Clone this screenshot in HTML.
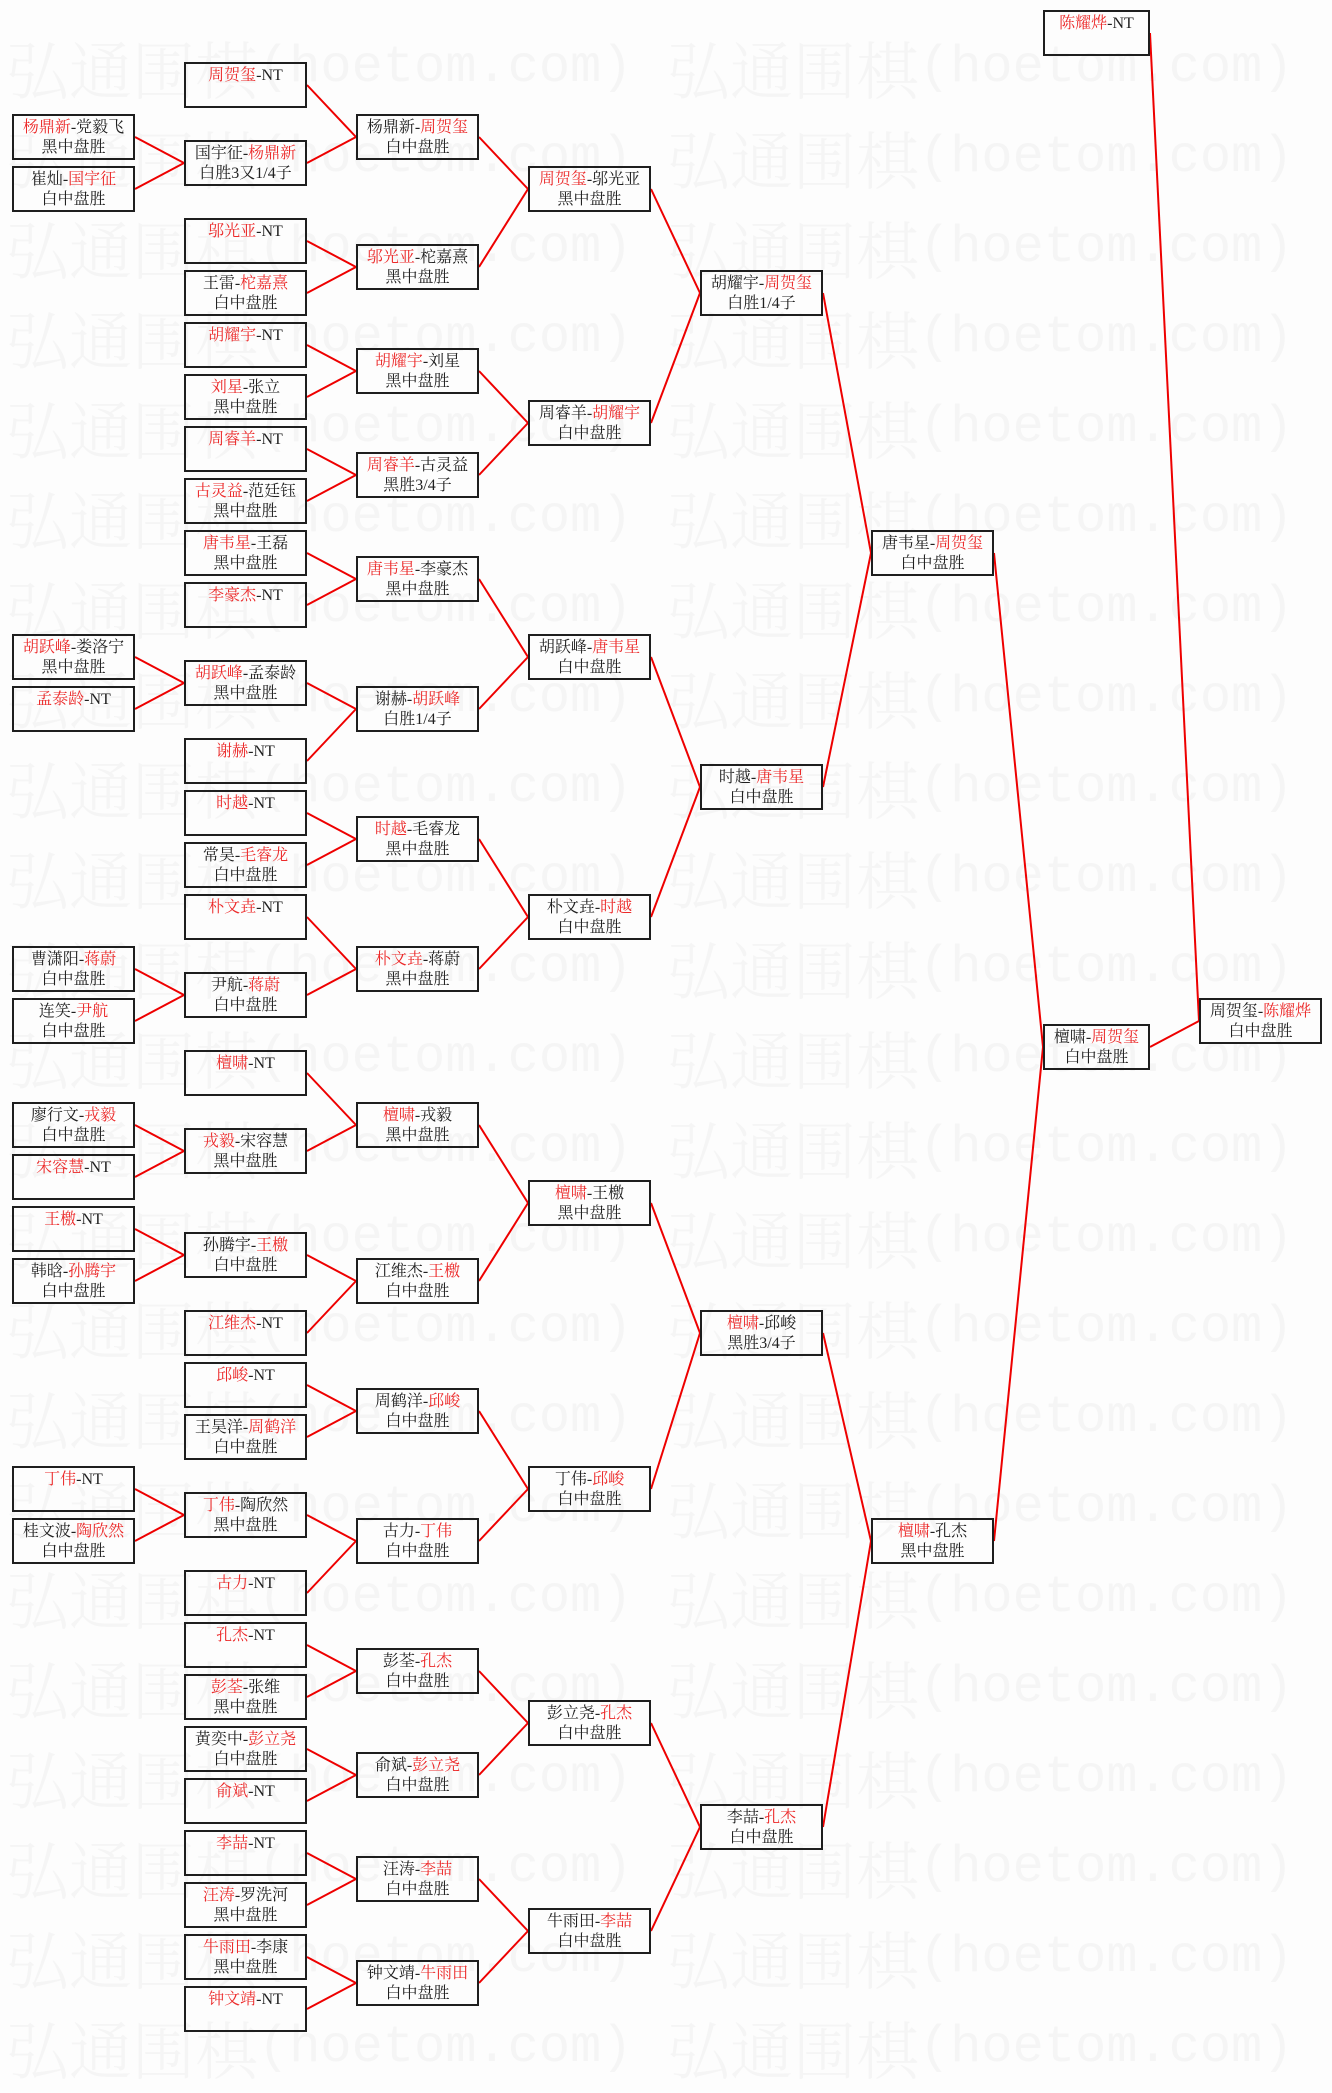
<!DOCTYPE html>
<html><head><meta charset="utf-8">
<style>
html,body{margin:0;padding:0;}
body{width:1332px;height:2041px;position:relative;overflow:hidden;background:#fdfdfd;}
.wm{position:absolute;left:0;width:1332px;height:62px;white-space:nowrap;color:#f5f5f5;}
.wm span{position:absolute;top:0;line-height:62px;}
.wc{font-family:"Noto Serif CJK SC","Noto Sans CJK SC",serif;font-size:63px;font-weight:300;}
.wl{font-family:"Liberation Mono",monospace;font-size:52px;}
svg{position:absolute;left:0;top:0;}
.b{position:absolute;box-sizing:border-box;width:123px;height:46px;border:2px solid #1e1e1e;padding-top:2px;text-align:center;font-family:"Liberation Serif","Noto Serif CJK SC",serif;font-size:16px;line-height:20px;color:#202020;white-space:nowrap;}
.n{width:107px;}
.b i{font-style:normal;color:#ec2a2a;}
</style></head><body>

<div class="wm" style="top:37px"><span class="wc" style="left:6px">弘通围棋</span><span class="wl" style="left:258px">(hoetom.com)</span><span class="wc" style="left:667px">弘通围棋</span><span class="wl" style="left:919px">(hoetom.com)</span></div>
<div class="wm" style="top:127px"><span class="wc" style="left:6px">弘通围棋</span><span class="wl" style="left:258px">(hoetom.com)</span><span class="wc" style="left:667px">弘通围棋</span><span class="wl" style="left:919px">(hoetom.com)</span></div>
<div class="wm" style="top:217px"><span class="wc" style="left:6px">弘通围棋</span><span class="wl" style="left:258px">(hoetom.com)</span><span class="wc" style="left:667px">弘通围棋</span><span class="wl" style="left:919px">(hoetom.com)</span></div>
<div class="wm" style="top:307px"><span class="wc" style="left:6px">弘通围棋</span><span class="wl" style="left:258px">(hoetom.com)</span><span class="wc" style="left:667px">弘通围棋</span><span class="wl" style="left:919px">(hoetom.com)</span></div>
<div class="wm" style="top:397px"><span class="wc" style="left:6px">弘通围棋</span><span class="wl" style="left:258px">(hoetom.com)</span><span class="wc" style="left:667px">弘通围棋</span><span class="wl" style="left:919px">(hoetom.com)</span></div>
<div class="wm" style="top:487px"><span class="wc" style="left:6px">弘通围棋</span><span class="wl" style="left:258px">(hoetom.com)</span><span class="wc" style="left:667px">弘通围棋</span><span class="wl" style="left:919px">(hoetom.com)</span></div>
<div class="wm" style="top:577px"><span class="wc" style="left:6px">弘通围棋</span><span class="wl" style="left:258px">(hoetom.com)</span><span class="wc" style="left:667px">弘通围棋</span><span class="wl" style="left:919px">(hoetom.com)</span></div>
<div class="wm" style="top:667px"><span class="wc" style="left:6px">弘通围棋</span><span class="wl" style="left:258px">(hoetom.com)</span><span class="wc" style="left:667px">弘通围棋</span><span class="wl" style="left:919px">(hoetom.com)</span></div>
<div class="wm" style="top:757px"><span class="wc" style="left:6px">弘通围棋</span><span class="wl" style="left:258px">(hoetom.com)</span><span class="wc" style="left:667px">弘通围棋</span><span class="wl" style="left:919px">(hoetom.com)</span></div>
<div class="wm" style="top:847px"><span class="wc" style="left:6px">弘通围棋</span><span class="wl" style="left:258px">(hoetom.com)</span><span class="wc" style="left:667px">弘通围棋</span><span class="wl" style="left:919px">(hoetom.com)</span></div>
<div class="wm" style="top:937px"><span class="wc" style="left:6px">弘通围棋</span><span class="wl" style="left:258px">(hoetom.com)</span><span class="wc" style="left:667px">弘通围棋</span><span class="wl" style="left:919px">(hoetom.com)</span></div>
<div class="wm" style="top:1027px"><span class="wc" style="left:6px">弘通围棋</span><span class="wl" style="left:258px">(hoetom.com)</span><span class="wc" style="left:667px">弘通围棋</span><span class="wl" style="left:919px">(hoetom.com)</span></div>
<div class="wm" style="top:1117px"><span class="wc" style="left:6px">弘通围棋</span><span class="wl" style="left:258px">(hoetom.com)</span><span class="wc" style="left:667px">弘通围棋</span><span class="wl" style="left:919px">(hoetom.com)</span></div>
<div class="wm" style="top:1207px"><span class="wc" style="left:6px">弘通围棋</span><span class="wl" style="left:258px">(hoetom.com)</span><span class="wc" style="left:667px">弘通围棋</span><span class="wl" style="left:919px">(hoetom.com)</span></div>
<div class="wm" style="top:1297px"><span class="wc" style="left:6px">弘通围棋</span><span class="wl" style="left:258px">(hoetom.com)</span><span class="wc" style="left:667px">弘通围棋</span><span class="wl" style="left:919px">(hoetom.com)</span></div>
<div class="wm" style="top:1387px"><span class="wc" style="left:6px">弘通围棋</span><span class="wl" style="left:258px">(hoetom.com)</span><span class="wc" style="left:667px">弘通围棋</span><span class="wl" style="left:919px">(hoetom.com)</span></div>
<div class="wm" style="top:1477px"><span class="wc" style="left:6px">弘通围棋</span><span class="wl" style="left:258px">(hoetom.com)</span><span class="wc" style="left:667px">弘通围棋</span><span class="wl" style="left:919px">(hoetom.com)</span></div>
<div class="wm" style="top:1567px"><span class="wc" style="left:6px">弘通围棋</span><span class="wl" style="left:258px">(hoetom.com)</span><span class="wc" style="left:667px">弘通围棋</span><span class="wl" style="left:919px">(hoetom.com)</span></div>
<div class="wm" style="top:1657px"><span class="wc" style="left:6px">弘通围棋</span><span class="wl" style="left:258px">(hoetom.com)</span><span class="wc" style="left:667px">弘通围棋</span><span class="wl" style="left:919px">(hoetom.com)</span></div>
<div class="wm" style="top:1747px"><span class="wc" style="left:6px">弘通围棋</span><span class="wl" style="left:258px">(hoetom.com)</span><span class="wc" style="left:667px">弘通围棋</span><span class="wl" style="left:919px">(hoetom.com)</span></div>
<div class="wm" style="top:1837px"><span class="wc" style="left:6px">弘通围棋</span><span class="wl" style="left:258px">(hoetom.com)</span><span class="wc" style="left:667px">弘通围棋</span><span class="wl" style="left:919px">(hoetom.com)</span></div>
<div class="wm" style="top:1927px"><span class="wc" style="left:6px">弘通围棋</span><span class="wl" style="left:258px">(hoetom.com)</span><span class="wc" style="left:667px">弘通围棋</span><span class="wl" style="left:919px">(hoetom.com)</span></div>
<div class="wm" style="top:2017px"><span class="wc" style="left:6px">弘通围棋</span><span class="wl" style="left:258px">(hoetom.com)</span><span class="wc" style="left:667px">弘通围棋</span><span class="wl" style="left:919px">(hoetom.com)</span></div>

<svg width="1332" height="2041" viewBox="0 0 1332 2041">
<g stroke="#ee0000" stroke-width="2" fill="none">
<line x1="135" y1="137" x2="184" y2="163"/>
<line x1="135" y1="189" x2="184" y2="163"/>
<line x1="135" y1="657" x2="184" y2="683"/>
<line x1="135" y1="709" x2="184" y2="683"/>
<line x1="135" y1="969" x2="184" y2="995"/>
<line x1="135" y1="1021" x2="184" y2="995"/>
<line x1="135" y1="1125" x2="184" y2="1151"/>
<line x1="135" y1="1177" x2="184" y2="1151"/>
<line x1="135" y1="1229" x2="184" y2="1255"/>
<line x1="135" y1="1281" x2="184" y2="1255"/>
<line x1="135" y1="1489" x2="184" y2="1515"/>
<line x1="135" y1="1541" x2="184" y2="1515"/>
<line x1="307" y1="85" x2="356" y2="137"/>
<line x1="307" y1="163" x2="356" y2="137"/>
<line x1="307" y1="241" x2="356" y2="267"/>
<line x1="307" y1="293" x2="356" y2="267"/>
<line x1="307" y1="345" x2="356" y2="371"/>
<line x1="307" y1="397" x2="356" y2="371"/>
<line x1="307" y1="449" x2="356" y2="475"/>
<line x1="307" y1="501" x2="356" y2="475"/>
<line x1="307" y1="553" x2="356" y2="579"/>
<line x1="307" y1="605" x2="356" y2="579"/>
<line x1="307" y1="683" x2="356" y2="709"/>
<line x1="307" y1="761" x2="356" y2="709"/>
<line x1="307" y1="813" x2="356" y2="839"/>
<line x1="307" y1="865" x2="356" y2="839"/>
<line x1="307" y1="917" x2="356" y2="969"/>
<line x1="307" y1="995" x2="356" y2="969"/>
<line x1="307" y1="1073" x2="356" y2="1125"/>
<line x1="307" y1="1151" x2="356" y2="1125"/>
<line x1="307" y1="1255" x2="356" y2="1281"/>
<line x1="307" y1="1333" x2="356" y2="1281"/>
<line x1="307" y1="1385" x2="356" y2="1411"/>
<line x1="307" y1="1437" x2="356" y2="1411"/>
<line x1="307" y1="1515" x2="356" y2="1541"/>
<line x1="307" y1="1593" x2="356" y2="1541"/>
<line x1="307" y1="1645" x2="356" y2="1671"/>
<line x1="307" y1="1697" x2="356" y2="1671"/>
<line x1="307" y1="1749" x2="356" y2="1775"/>
<line x1="307" y1="1801" x2="356" y2="1775"/>
<line x1="307" y1="1853" x2="356" y2="1879"/>
<line x1="307" y1="1905" x2="356" y2="1879"/>
<line x1="307" y1="1957" x2="356" y2="1983"/>
<line x1="307" y1="2009" x2="356" y2="1983"/>
<line x1="479" y1="137" x2="528" y2="189"/>
<line x1="479" y1="267" x2="528" y2="189"/>
<line x1="479" y1="371" x2="528" y2="423"/>
<line x1="479" y1="475" x2="528" y2="423"/>
<line x1="479" y1="579" x2="528" y2="657"/>
<line x1="479" y1="709" x2="528" y2="657"/>
<line x1="479" y1="839" x2="528" y2="917"/>
<line x1="479" y1="969" x2="528" y2="917"/>
<line x1="479" y1="1125" x2="528" y2="1203"/>
<line x1="479" y1="1281" x2="528" y2="1203"/>
<line x1="479" y1="1411" x2="528" y2="1489"/>
<line x1="479" y1="1541" x2="528" y2="1489"/>
<line x1="479" y1="1671" x2="528" y2="1723"/>
<line x1="479" y1="1775" x2="528" y2="1723"/>
<line x1="479" y1="1879" x2="528" y2="1931"/>
<line x1="479" y1="1983" x2="528" y2="1931"/>
<line x1="651" y1="189" x2="700" y2="293"/>
<line x1="651" y1="423" x2="700" y2="293"/>
<line x1="651" y1="657" x2="700" y2="787"/>
<line x1="651" y1="917" x2="700" y2="787"/>
<line x1="651" y1="1203" x2="700" y2="1333"/>
<line x1="651" y1="1489" x2="700" y2="1333"/>
<line x1="651" y1="1723" x2="700" y2="1827"/>
<line x1="651" y1="1931" x2="700" y2="1827"/>
<line x1="823" y1="293" x2="871" y2="553"/>
<line x1="823" y1="787" x2="871" y2="553"/>
<line x1="823" y1="1333" x2="871" y2="1541"/>
<line x1="823" y1="1827" x2="871" y2="1541"/>
<line x1="994" y1="553" x2="1043" y2="1047"/>
<line x1="994" y1="1541" x2="1043" y2="1047"/>
<line x1="1150" y1="1047" x2="1199" y2="1021"/>
<line x1="1150" y1="33" x2="1199" y2="1021"/>
</g>
</svg>

<div class="b" style="left:12px;top:114px"><i>杨鼎新</i>-党毅飞<br>黑中盘胜</div>
<div class="b" style="left:12px;top:166px">崔灿-<i>国宇征</i><br>白中盘胜</div>
<div class="b" style="left:12px;top:634px"><i>胡跃峰</i>-娄洛宁<br>黑中盘胜</div>
<div class="b" style="left:12px;top:686px"><i>孟泰龄</i>-NT</div>
<div class="b" style="left:12px;top:946px">曹潇阳-<i>蒋蔚</i><br>白中盘胜</div>
<div class="b" style="left:12px;top:998px">连笑-<i>尹航</i><br>白中盘胜</div>
<div class="b" style="left:12px;top:1102px">廖行文-<i>戎毅</i><br>白中盘胜</div>
<div class="b" style="left:12px;top:1154px"><i>宋容慧</i>-NT</div>
<div class="b" style="left:12px;top:1206px"><i>王檄</i>-NT</div>
<div class="b" style="left:12px;top:1258px">韩晗-<i>孙腾宇</i><br>白中盘胜</div>
<div class="b" style="left:12px;top:1466px"><i>丁伟</i>-NT</div>
<div class="b" style="left:12px;top:1518px">桂文波-<i>陶欣然</i><br>白中盘胜</div>

<div class="b" style="left:184px;top:62px"><i>周贺玺</i>-NT</div>
<div class="b" style="left:184px;top:140px">国宇征-<i>杨鼎新</i><br>白胜3又1/4子</div>
<div class="b" style="left:184px;top:218px"><i>邬光亚</i>-NT</div>
<div class="b" style="left:184px;top:270px">王雷-<i>柁嘉熹</i><br>白中盘胜</div>
<div class="b" style="left:184px;top:322px"><i>胡耀宇</i>-NT</div>
<div class="b" style="left:184px;top:374px"><i>刘星</i>-张立<br>黑中盘胜</div>
<div class="b" style="left:184px;top:426px"><i>周睿羊</i>-NT</div>
<div class="b" style="left:184px;top:478px"><i>古灵益</i>-范廷钰<br>黑中盘胜</div>
<div class="b" style="left:184px;top:530px"><i>唐韦星</i>-王磊<br>黑中盘胜</div>
<div class="b" style="left:184px;top:582px"><i>李豪杰</i>-NT</div>
<div class="b" style="left:184px;top:660px"><i>胡跃峰</i>-孟泰龄<br>黑中盘胜</div>
<div class="b" style="left:184px;top:738px"><i>谢赫</i>-NT</div>
<div class="b" style="left:184px;top:790px"><i>时越</i>-NT</div>
<div class="b" style="left:184px;top:842px">常昊-<i>毛睿龙</i><br>白中盘胜</div>
<div class="b" style="left:184px;top:894px"><i>朴文垚</i>-NT</div>
<div class="b" style="left:184px;top:972px">尹航-<i>蒋蔚</i><br>白中盘胜</div>
<div class="b" style="left:184px;top:1050px"><i>檀啸</i>-NT</div>
<div class="b" style="left:184px;top:1128px"><i>戎毅</i>-宋容慧<br>黑中盘胜</div>
<div class="b" style="left:184px;top:1232px">孙腾宇-<i>王檄</i><br>白中盘胜</div>
<div class="b" style="left:184px;top:1310px"><i>江维杰</i>-NT</div>
<div class="b" style="left:184px;top:1362px"><i>邱峻</i>-NT</div>
<div class="b" style="left:184px;top:1414px">王昊洋-<i>周鹤洋</i><br>白中盘胜</div>
<div class="b" style="left:184px;top:1492px"><i>丁伟</i>-陶欣然<br>黑中盘胜</div>
<div class="b" style="left:184px;top:1570px"><i>古力</i>-NT</div>
<div class="b" style="left:184px;top:1622px"><i>孔杰</i>-NT</div>
<div class="b" style="left:184px;top:1674px"><i>彭荃</i>-张维<br>黑中盘胜</div>
<div class="b" style="left:184px;top:1726px">黄奕中-<i>彭立尧</i><br>白中盘胜</div>
<div class="b" style="left:184px;top:1778px"><i>俞斌</i>-NT</div>
<div class="b" style="left:184px;top:1830px"><i>李喆</i>-NT</div>
<div class="b" style="left:184px;top:1882px"><i>汪涛</i>-罗洗河<br>黑中盘胜</div>
<div class="b" style="left:184px;top:1934px"><i>牛雨田</i>-李康<br>黑中盘胜</div>
<div class="b" style="left:184px;top:1986px"><i>钟文靖</i>-NT</div>

<div class="b" style="left:356px;top:114px">杨鼎新-<i>周贺玺</i><br>白中盘胜</div>
<div class="b" style="left:356px;top:244px"><i>邬光亚</i>-柁嘉熹<br>黑中盘胜</div>
<div class="b" style="left:356px;top:348px"><i>胡耀宇</i>-刘星<br>黑中盘胜</div>
<div class="b" style="left:356px;top:452px"><i>周睿羊</i>-古灵益<br>黑胜3/4子</div>
<div class="b" style="left:356px;top:556px"><i>唐韦星</i>-李豪杰<br>黑中盘胜</div>
<div class="b" style="left:356px;top:686px">谢赫-<i>胡跃峰</i><br>白胜1/4子</div>
<div class="b" style="left:356px;top:816px"><i>时越</i>-毛睿龙<br>黑中盘胜</div>
<div class="b" style="left:356px;top:946px"><i>朴文垚</i>-蒋蔚<br>黑中盘胜</div>
<div class="b" style="left:356px;top:1102px"><i>檀啸</i>-戎毅<br>黑中盘胜</div>
<div class="b" style="left:356px;top:1258px">江维杰-<i>王檄</i><br>白中盘胜</div>
<div class="b" style="left:356px;top:1388px">周鹤洋-<i>邱峻</i><br>白中盘胜</div>
<div class="b" style="left:356px;top:1518px">古力-<i>丁伟</i><br>白中盘胜</div>
<div class="b" style="left:356px;top:1648px">彭荃-<i>孔杰</i><br>白中盘胜</div>
<div class="b" style="left:356px;top:1752px">俞斌-<i>彭立尧</i><br>白中盘胜</div>
<div class="b" style="left:356px;top:1856px">汪涛-<i>李喆</i><br>白中盘胜</div>
<div class="b" style="left:356px;top:1960px">钟文靖-<i>牛雨田</i><br>白中盘胜</div>

<div class="b" style="left:528px;top:166px"><i>周贺玺</i>-邬光亚<br>黑中盘胜</div>
<div class="b" style="left:528px;top:400px">周睿羊-<i>胡耀宇</i><br>白中盘胜</div>
<div class="b" style="left:528px;top:634px">胡跃峰-<i>唐韦星</i><br>白中盘胜</div>
<div class="b" style="left:528px;top:894px">朴文垚-<i>时越</i><br>白中盘胜</div>
<div class="b" style="left:528px;top:1180px"><i>檀啸</i>-王檄<br>黑中盘胜</div>
<div class="b" style="left:528px;top:1466px">丁伟-<i>邱峻</i><br>白中盘胜</div>
<div class="b" style="left:528px;top:1700px">彭立尧-<i>孔杰</i><br>白中盘胜</div>
<div class="b" style="left:528px;top:1908px">牛雨田-<i>李喆</i><br>白中盘胜</div>

<div class="b" style="left:700px;top:270px">胡耀宇-<i>周贺玺</i><br>白胜1/4子</div>
<div class="b" style="left:700px;top:764px">时越-<i>唐韦星</i><br>白中盘胜</div>
<div class="b" style="left:700px;top:1310px"><i>檀啸</i>-邱峻<br>黑胜3/4子</div>
<div class="b" style="left:700px;top:1804px">李喆-<i>孔杰</i><br>白中盘胜</div>

<div class="b" style="left:871px;top:530px">唐韦星-<i>周贺玺</i><br>白中盘胜</div>
<div class="b" style="left:871px;top:1518px"><i>檀啸</i>-孔杰<br>黑中盘胜</div>

<div class="b n" style="left:1043px;top:10px"><i>陈耀烨</i>-NT</div>
<div class="b n" style="left:1043px;top:1024px">檀啸-<i>周贺玺</i><br>白中盘胜</div>

<div class="b" style="left:1199px;top:998px">周贺玺-<i>陈耀烨</i><br>白中盘胜</div>

</body></html>
